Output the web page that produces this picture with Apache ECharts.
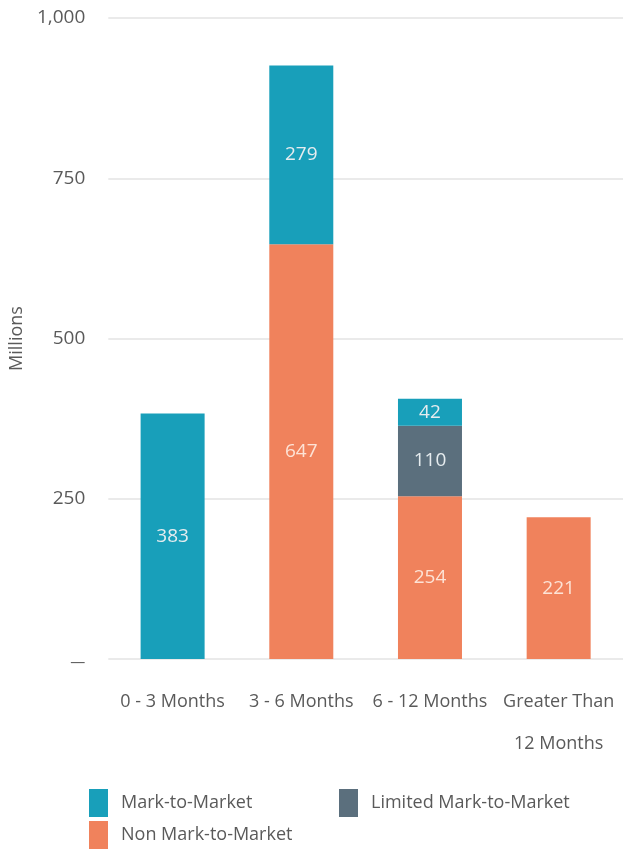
<!DOCTYPE html>
<html>
<head>
<meta charset="utf-8">
<script src="https://cdn.jsdelivr.net/npm/echarts@6/dist/echarts.min.js"></script>
<style>
  html, body { margin: 0; padding: 0; background: #fff; }
  #chart { width: 623px; height: 850px; }
</style>
</head>
<body>
<div id="chart"></div>
<script>
// Maturity buckets and exposure amounts (millions)
const categories = ['0 - 3 Months', '3 - 6 Months', '6 - 12 Months', 'Greater Than\n12 Months'];
const nonMarkToMarket = [null, 647, 254, 221];
const limitedMarkToMarket = [null, null, 110, null];
const markToMarket = [383, 279, 42, null];
const yTicks = [0, 250, 500, 750, 1000];

const FONT = '"Open Sans", sans-serif';
const GREY = '#5a5a5a';

const chart = echarts.init(document.getElementById('chart'));

// Zero is shown as a dash, other ticks with thousands separators
function fmtTick(v) {
  if (v === 0) return '{dash|—}';
  return v.toLocaleString('en-US');
}

const barLabel = (color) => ({
  show: true,
  position: 'inside',
  color: color,
  fontFamily: FONT,
  fontSize: 19,
  formatter: (p) => p.value
});

// One legend block per entry so each can sit at its own spot
function legendAt(name, left, top) {
  return {
    left: left,
    top: top,
    itemWidth: 19,
    itemHeight: 28,
    icon: 'rect',
    data: [name],
    textStyle: { color: GREY, fontFamily: FONT, fontSize: 18, padding: [0, 0, 0, 8] }
  };
}

chart.setOption({
  animation: false,
  grid: { left: 107, right: -6, top: 18, bottom: 191 },
  xAxis: {
    type: 'category',
    data: categories,
    axisLine: { show: false },
    axisTick: { show: false },
    axisLabel: {
      color: GREY,
      fontFamily: FONT,
      fontSize: 18,
      margin: 22,
      lineHeight: 42,
      interval: 0
    }
  },
  yAxis: {
    type: 'value',
    min: 0,
    max: 1000,
    interval: 250,
    name: 'Millions',
    nameLocation: 'middle',
    nameRotate: 90,
    nameGap: 80,
    nameTextStyle: { color: GREY, fontFamily: FONT, fontSize: 18 },
    axisLine: { show: false },
    axisTick: { show: false },
    axisLabel: {
      color: GREY,
      fontFamily: FONT,
      fontSize: 19,
      margin: 23,
      formatter: (v) => yTicks.includes(v) ? fmtTick(v) : '',
      rich: {
        dash: { fontFamily: FONT, fontSize: 15, color: GREY, padding: [8, 0, 0, 0] }
      }
    },
    splitLine: { lineStyle: { color: '#e3e3e3', width: 1.5 } }
  },
  legend: [
    legendAt('Mark-to-Market', 84, 784),
    legendAt('Non Mark-to-Market', 84, 816),
    legendAt('Limited Mark-to-Market', 334, 784)
  ],
  series: [
    {
      name: 'Non Mark-to-Market',
      type: 'bar',
      stack: 'total',
      barWidth: 64,
      data: nonMarkToMarket,
      itemStyle: { color: '#f0825c' },
      label: barLabel('#fde3d6')
    },
    {
      name: 'Limited Mark-to-Market',
      type: 'bar',
      stack: 'total',
      barWidth: 64,
      data: limitedMarkToMarket,
      itemStyle: { color: '#5b6f7d' },
      label: barLabel('#e6ecef')
    },
    {
      name: 'Mark-to-Market',
      type: 'bar',
      stack: 'total',
      barWidth: 64,
      data: markToMarket,
      itemStyle: { color: '#189fba' },
      label: {
        show: true,
        position: 'inside',
        fontFamily: FONT,
        fontSize: 19,
        color: (p) => p.dataIndex === 2 ? '#1c2b3a' : '#dff4f8',
        formatter: (p) => p.value
      }
    }
  ]
});
</script>
</body>
</html>
